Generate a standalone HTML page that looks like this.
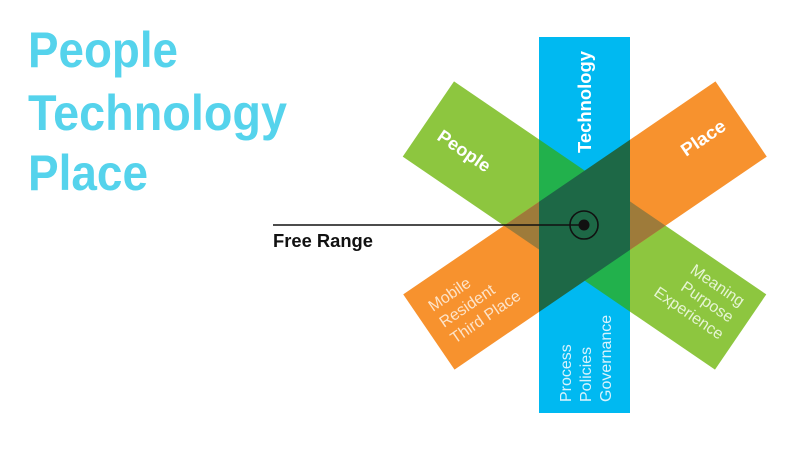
<!DOCTYPE html>
<html><head><meta charset="utf-8"><style>
html,body{margin:0;padding:0;background:#fff;width:800px;height:450px;overflow:hidden}
svg{display:block}
text{font-family:"Liberation Sans",sans-serif}
</style></head><body>
<svg width="800" height="450" viewBox="0 0 800 450" xmlns="http://www.w3.org/2000/svg">
<defs>
  <rect id="g" x="-189" y="-45.5" width="378" height="91" transform="translate(584.5,225.5) rotate(34.3)"/>
  <rect id="o" x="-189" y="-45.5" width="378" height="91" transform="translate(585,225.5) rotate(-34.3)"/>
  <rect id="b" x="539" y="37" width="91" height="376"/>
  <clipPath id="cg"><use href="#g"/></clipPath>
  <clipPath id="co"><use href="#o"/></clipPath>
  <clipPath id="cb"><use href="#b"/></clipPath>
</defs>
<use href="#g" fill="#8dc63f"/>
<use href="#o" fill="#f7922e"/>
<use href="#b" fill="#00b9f1"/>
<g clip-path="url(#cg)"><use href="#o" fill="#9e7b3a"/></g>
<g clip-path="url(#cb)"><use href="#g" fill="#22b14c"/></g>
<g clip-path="url(#cb)"><use href="#o" fill="#1d6846"/></g>

<text x="28" y="67" font-size="50" font-weight="bold" fill="#55d3ec" textLength="150" lengthAdjust="spacingAndGlyphs">People</text>
<text x="28" y="130" font-size="50" font-weight="bold" fill="#55d3ec" textLength="259" lengthAdjust="spacingAndGlyphs">Technology</text>
<text x="28" y="190" font-size="50" font-weight="bold" fill="#55d3ec" textLength="120" lengthAdjust="spacingAndGlyphs">Place</text>

<line x1="273" y1="225" x2="584" y2="225" stroke="#111" stroke-width="1.6"/>
<text x="273" y="247" font-size="18" font-weight="bold" fill="#111" textLength="100" lengthAdjust="spacingAndGlyphs">Free Range</text>
<circle cx="584" cy="225" r="14" fill="none" stroke="#111" stroke-width="1.6"/>
<circle cx="584" cy="225" r="5.5" fill="#111"/>

<text transform="translate(436,139) rotate(34.3)" font-size="18" font-weight="bold" fill="#fff" textLength="60" lengthAdjust="spacingAndGlyphs">People</text>
<text transform="translate(686,157) rotate(-34.3)" font-size="18" font-weight="bold" fill="#fff" textLength="50" lengthAdjust="spacingAndGlyphs">Place</text>
<text transform="translate(591,153) rotate(-90)" font-size="18" font-weight="bold" fill="#fff" textLength="102" lengthAdjust="spacingAndGlyphs">Technology</text>

<g font-size="16" fill="#fde3c8">
<text transform="translate(433,312) rotate(-34.3)">Mobile</text>
<text transform="translate(444,328) rotate(-34.3)">Resident</text>
<text transform="translate(455,344) rotate(-34.3)">Third Place</text>
</g>
<g font-size="16" fill="#e6f5d3" text-anchor="end">
<text transform="translate(740,307) rotate(34.3)">Meaning</text>
<text transform="translate(729,323) rotate(34.3)">Purpose</text>
<text transform="translate(719,340) rotate(34.3)">Experience</text>
</g>
<g font-size="16" fill="#d8f3fd">
<text transform="translate(571,402) rotate(-90)">Process</text>
<text transform="translate(591,402) rotate(-90)">Policies</text>
<text transform="translate(611,402) rotate(-90)">Governance</text>
</g>
</svg>
</body></html>
